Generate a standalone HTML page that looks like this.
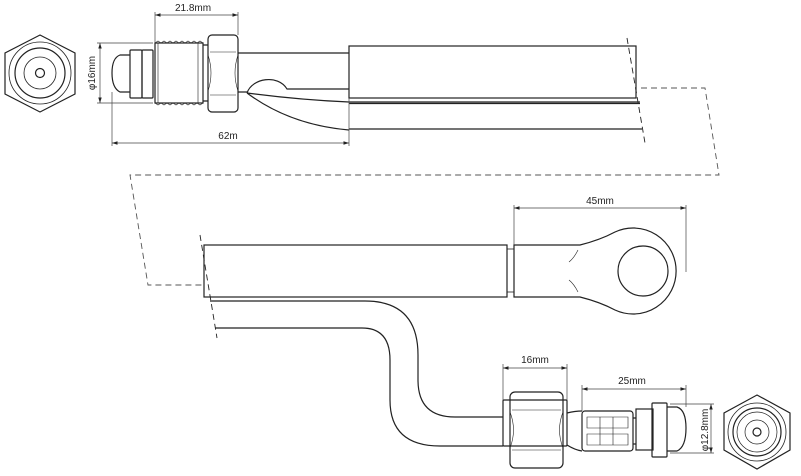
<html><body style="margin:0;background:#fff">
<svg width="801" height="476" viewBox="0 0 801 476" xmlns="http://www.w3.org/2000/svg" font-family="Liberation Sans, sans-serif" font-size="10" fill="none" stroke="#222" stroke-width="1.2">
<defs><marker id="a" markerWidth="8" markerHeight="6" refX="8" refY="3" orient="auto-start-reverse"><path d="M0,0.5 L8,3 L0,5.5z" fill="#222" stroke="none"/></marker></defs>
<!-- top end view -->
<polygon points="40,35 75,53 75,94 40,112 5,94 5,53"/>
<circle cx="40" cy="73" r="31" stroke-width="0.8"/>
<circle cx="40" cy="73" r="25"/>
<circle cx="40" cy="73" r="16" stroke-width="0.8"/>
<circle cx="40" cy="73" r="4.5"/>
<!-- top fitting -->
<path d="M130,55 L120,55 Q112,58 112,73 Q112,88 120,92 L130,92"/>
<rect x="130" y="50" width="12" height="48" rx="1"/>
<rect x="142" y="50" width="11" height="48" rx="1"/>
<rect x="155" y="43" width="48" height="60"/>
<path d="M158,43 V103 M198,43 V103" stroke-width="0.6"/>
<path d="M155,43 l3,-2 3,2 3,-2 3,2 3,-2 3,2 3,-2 3,2 3,-2 3,2 3,-2 3,2 3,-2 3,2 3,-2 3,2 M155,103 l3,2 3,-2 3,2 3,-2 3,2 3,-2 3,2 3,-2 3,2 3,-2 3,2 3,-2 3,2 3,-2 3,2 3,-2" stroke-width="0.7"/>
<path d="M203,45 H208 M203,101 H208"/>
<rect x="208" y="35" width="30" height="77" rx="4"/>
<path d="M210,52 H236 M210,95 H236 M208,55 Q214,73 208,91 M238,55 Q232,73 238,91" stroke-width="0.6"/>
<path d="M238,53 H349 M238,92 H247"/>
<path d="M247,93 C252,78 278,74 287,89 H349"/>
<path d="M247,93 Q300,100 349,102 M247,93 Q290,125 349,130"/>
<rect x="349" y="46" width="287" height="52"/>
<path d="M349,102 H640 M349,103.5 H640 M349,129 H642" />
<path d="M627,38 L645,143" stroke-dasharray="6,4" stroke-width="0.9"/>
<!-- dims top -->
<g stroke-width="0.7" stroke="#444">
<path d="M155,12 V43 M238,12 V35"/><path d="M155,15 H238" marker-start="url(#a)" marker-end="url(#a)"/>
<path d="M97,43 H153 M97,103 H153"/><path d="M100,43 V103" marker-start="url(#a)" marker-end="url(#a)"/>
<path d="M112,92 V146 M349,98 V146"/><path d="M112,143 H349" marker-start="url(#a)" marker-end="url(#a)"/>
</g>
<g fill="#222" stroke="none">
<text x="193" y="11" text-anchor="middle">21.8mm</text>
<text x="228" y="139" text-anchor="middle">62m</text>
<text transform="translate(95,73) rotate(-90)" text-anchor="middle">φ16mm</text>
<text x="600" y="204" text-anchor="middle">45mm</text>
<text x="535" y="363" text-anchor="middle">16mm</text>
<text x="632" y="384" text-anchor="middle">25mm</text>
<text transform="translate(708,430) rotate(-90)" text-anchor="middle">φ12.8mm</text>
</g>
<!-- dashed link -->
<path d="M641,88 H705 L719,175 H130 L148,285 H205" stroke-dasharray="6,4" stroke-width="0.9" stroke="#555"/>
<path d="M200,235 L217,338" stroke-dasharray="6,4" stroke-width="0.9"/>
<!-- lower hose -->
<rect x="204" y="245" width="303" height="52"/>
<rect x="507" y="249" width="7" height="43" stroke-width="0.8"/>
<path d="M514,245 H580 Q600,240 615,232 A43,43 0 1 1 615,310 Q600,302 580,297 H514 Z"/>
<circle cx="643" cy="271" r="25"/>
<path d="M578,250 Q574,258 569,262 M578,292 Q574,284 569,280" stroke-width="0.6"/>
<path d="M210,301 H365 Q418,301 418,355 V380 Q418,417 455,417 H503"/>
<path d="M215,328 H362 Q390,328 390,360 V400 Q390,446 440,446 H503"/>
<!-- lower fitting -->
<rect x="503" y="400" width="64" height="46" rx="1"/>
<rect x="510" y="392" width="53" height="76" rx="5"/>
<path d="M512,410 H561 M512,450 H561 M510,412 Q517,430 510,448 M563,412 Q556,430 563,448" stroke-width="0.6"/>
<path d="M567,413 Q575,411 582,411 M567,445 Q575,450 582,451"/>
<rect x="582" y="411" width="51" height="40" rx="3"/>
<path d="M587,417 H628 V428 H587 Z M587,434 H628 V445 H587 Z M600,417 V445 M613,417 V445" stroke-width="0.6"/>
<path d="M633,418 H636 M633,444 H636"/>
<rect x="636" y="409" width="17" height="41"/>
<rect x="652" y="403" width="15" height="54" rx="1"/>
<path d="M667,407 H677 Q686,410 686,428 Q686,447 677,451 H667"/>
<g stroke-width="0.7" stroke="#444">
<path d="M503,364 V400 M567,364 V400"/><path d="M503,368 H567" marker-start="url(#a)" marker-end="url(#a)"/>
<path d="M582,385 V411 M686,385 V407"/><path d="M582,389 H686" marker-start="url(#a)" marker-end="url(#a)"/>
<path d="M670,404 H714 M670,453 H714"/><path d="M711,404 V453" marker-start="url(#a)" marker-end="url(#a)"/>
<path d="M514,205 V245 M686,205 V272"/><path d="M514,208 H686" marker-start="url(#a)" marker-end="url(#a)"/>
</g>
<!-- lower end view -->
<polygon points="757,395 790,413 790,450 757,469 724,450 724,413"/>
<circle cx="757" cy="432" r="29" stroke-width="0.8"/>
<circle cx="757" cy="432" r="24"/>
<circle cx="757" cy="432" r="20" stroke-width="0.7"/>
<circle cx="757" cy="432" r="12" stroke-width="0.7"/>
<circle cx="757" cy="432" r="4"/>
</svg>
</body></html>
